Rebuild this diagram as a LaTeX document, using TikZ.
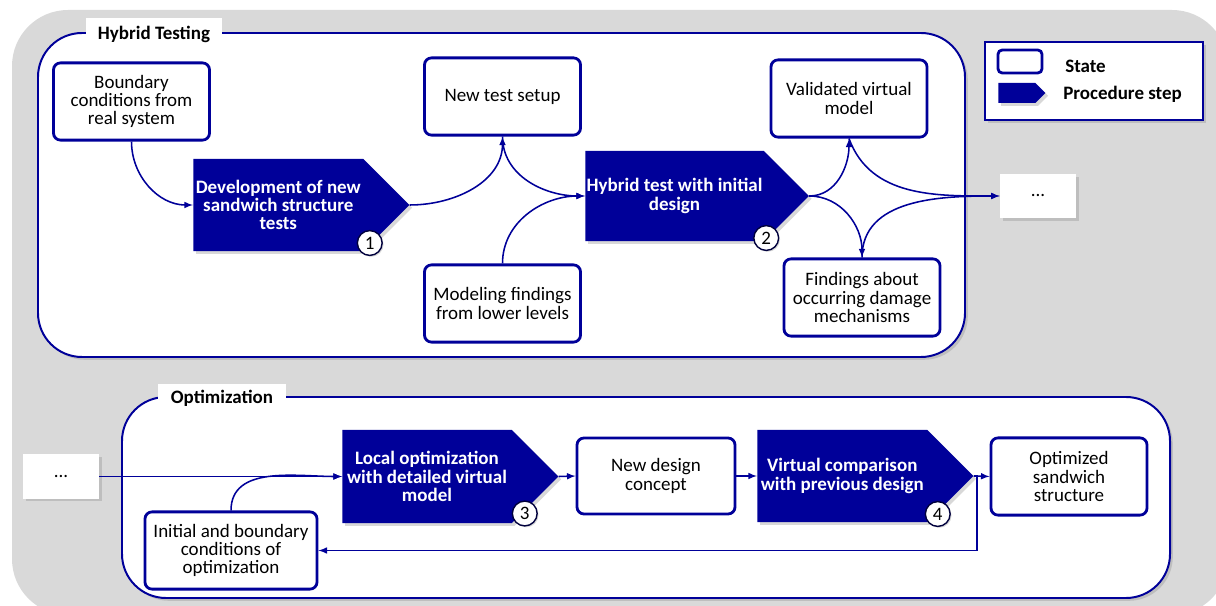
\documentclass[tikz,border=0pt]{standalone}
\usepackage{fontspec}
\setmainfont{Carlito}
\usetikzlibrary{shapes.symbols, arrows, shadows, calc}
\definecolor{navy}{RGB}{0,0,153}
\definecolor{bggray}{RGB}{217,217,217}
\tikzstyle{line} = [draw=navy, line width=1.1pt, -latex]

\begin{document}
\begin{tikzpicture}[x=0.025cm, y=0.025cm, font=\fontsize{13.5}{13}\selectfont]
        \tikzstyle{state} = [rectangle, draw=navy, line width=2pt, fill=white,
        rounded corners=5pt, align=center, minimum width=3.9cm, minimum height=1.93cm]
        \tikzstyle{procstep} = [signal, signal to=east, signal pointer angle=90,
        fill=navy, text=white, font=\fontsize{13.5}{13}\selectfont\bfseries, align=center,
        anchor=west, inner xsep=1pt, minimum width=5.4cm, minimum height=2.3cm,
        drop shadow={shadow xshift=2pt, shadow yshift=-2pt, opacity=0.3}]
        \tikzstyle{stepno} = [circle, draw=navy!40!black, line width=1pt, fill=white,
        inner sep=0pt, minimum size=0.62cm, font=\fontsize{13.5}{13}\selectfont,
        drop shadow={shadow xshift=1pt, shadow yshift=-1pt, opacity=0.3}]
        \tikzstyle{dots} = [rectangle, fill=white, minimum width=1.9cm, minimum height=1.1cm,
        drop shadow={shadow xshift=2pt, shadow yshift=-2pt, opacity=0.3}]
        \tikzstyle{group} = [draw=navy, line width=1.4pt, fill=white, rounded corners=1.1cm,
        drop shadow={shadow xshift=2pt, shadow yshift=-2pt, opacity=0.3}]
        \tikzstyle{grouptitle} = [rectangle, fill=white, font=\fontsize{13.5}{13}\selectfont\bfseries]

        \useasboundingbox (0,0) rectangle (1216,605);
        \clip (0,0) rectangle (1216,605);
        \fill [bggray, rounded corners=1.4cm] (12,-10) rectangle (1228,595);

        % Hybrid Testing
        \draw [group] (38,248) rectangle (965,572);
        \node [grouptitle, minimum width=3.4cm, minimum height=0.8cm] (hybridtitle) at (154,571) {Hybrid Testing};

        \node [state] (boundary) at (131.5,503.5) {Boundary\\conditions from\\real system};
        \node [procstep] (step1) at (193,400) {Development of new\\sandwich structure\\tests};
        \node [stepno] (no1) at ($(step1.east)+(-40,-38)$) {1};

        \node [state] (setup) at (502.5,508.5) {New test setup};
        \node [state] (modeling) at (502.5,301.5) {Modeling findings\\from lower levels};
        \node [procstep, minimum height=2.25cm] (step2) at (585,409) {Hybrid test with initial\\design};
        \node [stepno] (no2) at ($(step2.east)+(-43,-42)$) {2};

        \node [state] (validated) at (849,506.5) {Validated virtual\\model};
        \node [state] (findings) at (862,307.5) {Findings about\\occurring damage\\mechanisms};
        \node [dots] (dotsA) at (1038,409) {...};

        % legend
        \node [draw=navy, line width=1.4pt, fill=white, minimum width=5.45cm, minimum height=1.95cm,
        drop shadow={shadow xshift=2pt, shadow yshift=-2pt, opacity=0.3}] (legend) at (1094,524) {};
        \node [state, minimum width=1.1cm, minimum height=0.575cm, rounded corners=3pt] (legstate) at (1020,543.5) {};
        \node [procstep, minimum width=1.175cm, minimum height=0.5cm] (legstep) at (998,512) {};
        \node [anchor=west, inner sep=0pt, font=\fontsize{13.5}{13}\selectfont\bfseries] (legstatetext) at (1065,539) {State};
        \node [anchor=west, inner sep=0pt, font=\fontsize{13.5}{13}\selectfont\bfseries] (legsteptext) at (1063,511) {Procedure step};

        % Optimization
        \draw [group] (122,7) rectangle (1170,208);
        \node [grouptitle, minimum width=3.2cm, minimum height=0.7cm] (opttitle) at (222,207) {Optimization};

        \node [dots] (dotsB) at (61,128.5) {...};
        \node [procstep, minimum height=2.33cm] (step3) at (342,128.5) {Local optimization\\with detailed virtual\\model};
        \node [stepno] (no3) at ($(step3.east)+(-34,-37)$) {3};
        \node [state, minimum width=3.95cm, minimum height=1.9cm] (concept) at (656,129) {New design\\concept};
        \node [procstep] (step4) at (757,129) {Virtual comparison\\with previous design};
        \node [stepno] (no4) at ($(step4.east)+(-36,-38)$) {4};
        \node [state] (optimized) at (1069,128.5) {Optimized\\sandwich\\structure};
        \node [state, minimum width=4.3cm] (initial) at (231,54.5) {Initial and boundary\\conditions of\\optimization};

        \draw [line] (boundary.south) to[out=-90, in=180] (step1.west);
        \draw [line] (step1.east) to[out=0, in=-90] (setup.south);
        \draw [line] (setup.south) to[out=-90, in=180] (step2.west);
        \draw [line] (modeling.north) to[out=90, in=180] (step2.west);
        \draw [line] (step2.east) to[out=0, in=-90] (validated.south);
        \draw [line] (step2.east) to[out=0, in=90] (findings.north);
        \draw [line] (validated.south) to[out=-70, in=180] (dotsA.west);
        \draw [line] (findings.north) to[out=90, in=180] (dotsA.west);

        \draw [line] (dotsB.east) -- (step3.west);
        \draw [line] (initial.north) to[out=90, in=180] (step3.west);
        \draw [line] (step3.east) -- (concept.west);
        \draw [line] (concept.east) -- (step4.west);
        \draw [line] (step4.east) -- (optimized.west);
        \draw [line] (step4.east) -- ++(3,0) |- (initial.east);
\end{tikzpicture}
\end{document}
